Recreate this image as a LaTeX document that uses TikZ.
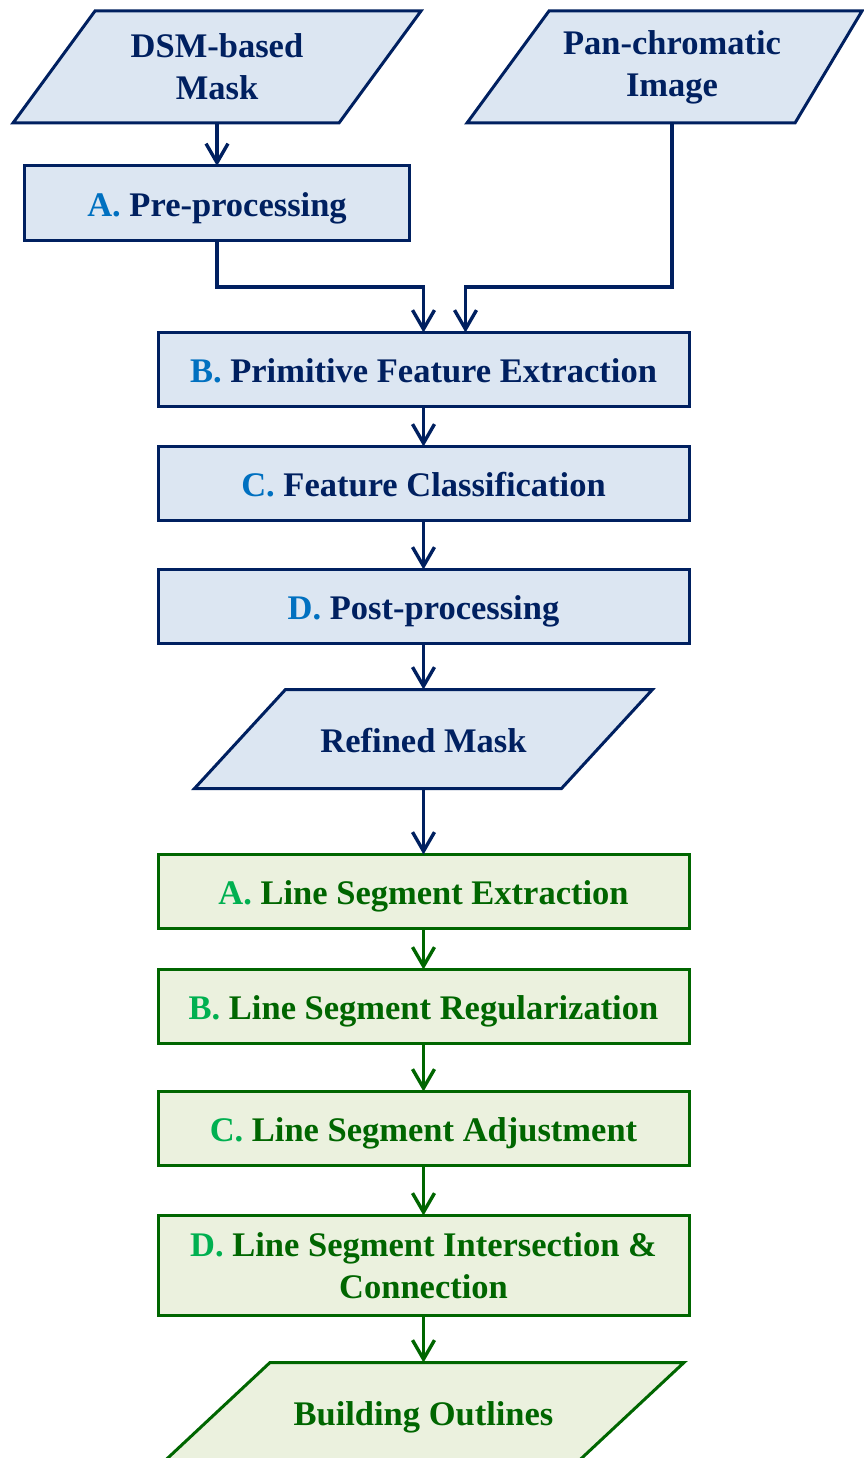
\documentclass[tikz,border=0pt]{standalone}
\usepackage{fontspec}
\setmainfont{Liberation Serif}
\usepackage{xcolor}
\usepackage{tikz}
\usetikzlibrary{positioning, arrows.meta, backgrounds}

\definecolor{navy}{HTML}{002060}
\definecolor{stepblue}{HTML}{0070C0}
\definecolor{bluefill}{HTML}{DCE6F2}
\definecolor{darkgreen}{HTML}{006600}
\definecolor{stepgreen}{HTML}{00B050}
\definecolor{greenfill}{HTML}{EBF1DE}

\begin{document}
\begin{tikzpicture}[
  x=1pt, y=1pt,
  process/.style={draw=navy, fill=bluefill, text=navy, line width=3pt, align=center, minimum width=531pt, minimum height=74pt, outer sep=0pt, font=\fontsize{34.5}{42}\selectfont\bfseries},
  oneline/.style={text height=30pt, text depth=4pt},
  data/.style={process, draw=none, fill=none, minimum height=112pt},
  frame/.style={draw=navy, fill=bluefill, line width=3pt, line join=miter},
  gprocess/.style={process, draw=darkgreen, fill=greenfill, text=darkgreen},
  gdata/.style={gprocess, draw=none, fill=none},
  gframe/.style={frame, draw=darkgreen, fill=greenfill},
  arrow/.style={-{Straight Barb[length=19pt, width=22pt]}, line width=3.4pt, navy},
  garrow/.style={arrow, darkgreen}
]
\useasboundingbox (0,0) rectangle (864,-1458);

% Inputs
\node[data, minimum width=326pt] (dsm) at (217,-67) {DSM-based\\Mask};
\node[data, minimum width=246pt] (pan) at (672,-67) {Pan-chromatic\\Image};
\node[process, oneline, minimum width=385pt, below=43pt of dsm] (pre) {\textcolor{stepblue}{A.} Pre-processing};

% Mask refinement
\node[process, oneline] (feat) at (423.5,-369.5) {\textcolor{stepblue}{B.} Primitive Feature Extraction};
\node[process, oneline, below=40pt of feat] (cls) {\textcolor{stepblue}{C.} Feature Classification};
\node[process, oneline, below=49pt of cls] (post) {\textcolor{stepblue}{D.} Post-processing};
\node[data, oneline, minimum width=367pt, minimum height=99pt, below=46pt of post] (refined) {Refined Mask};

% Outline extraction
\node[gprocess, oneline, below=66pt of refined] (extract) {\textcolor{stepgreen}{A.} Line Segment Extraction};
\node[gprocess, oneline, below=41pt of extract] (regular) {\textcolor{stepgreen}{B.} Line Segment Regularization};
\node[gprocess, oneline, below=48pt of regular] (adjust) {\textcolor{stepgreen}{C.} Line Segment Adjustment};
\node[gprocess, minimum height=100pt, below=50pt of adjust] (connect) {\textcolor{stepgreen}{D.} Line Segment Intersection \&\\Connection};
\node[gdata, oneline, minimum width=414pt, minimum height=100pt, below=47pt of connect] (outline) {Building Outlines};

% Parallelogram frames behind the data nodes
\begin{scope}[on background layer]
\draw[frame] ([xshift=41pt]dsm.north west) -- ([xshift=41pt]dsm.north east) -- ([xshift=-41pt]dsm.south east) -- ([xshift=-41pt]dsm.south west) -- cycle;
\draw[frame] (pan.north west) -- ([xshift=67pt]pan.north east) -- (pan.south east) -- ([xshift=-82pt]pan.south west) -- cycle;
\draw[frame] ([xshift=45.5pt]refined.north west) -- ([xshift=45.5pt]refined.north east) -- ([xshift=-45.5pt]refined.south east) -- ([xshift=-45.5pt]refined.south west) -- cycle;
\draw[gframe] ([xshift=53.5pt]outline.north west) -- ([xshift=53.5pt]outline.north east) -- ([xshift=-53.5pt]outline.south east) -- ([xshift=-53.5pt]outline.south west) -- cycle;
\end{scope}

% Arrows
\coordinate (merge) at ([yshift=-47pt]pre.south);
\coordinate (featin) at ([xshift=42pt]feat.north);
\draw[arrow] (dsm.south) -- (pre.north);
\draw[arrow] (pre.south) |- (feat.north |- merge) -- (feat.north);
\draw[arrow] (pan.south) |- (featin |- merge) -- (featin);
\draw[arrow] (feat) -- (cls);
\draw[arrow] (cls) -- (post);
\draw[arrow] (post) -- (refined);
\draw[arrow] (refined) -- (extract);
\draw[garrow] (extract) -- (regular);
\draw[garrow] (regular) -- (adjust);
\draw[garrow] (adjust) -- (connect);
\draw[garrow] (connect) -- (outline);

\end{tikzpicture}
\end{document}
